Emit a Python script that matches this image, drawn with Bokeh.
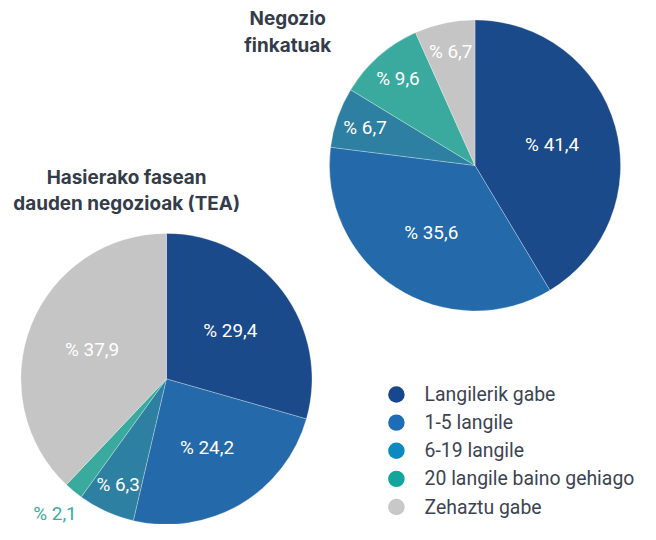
import math
from bokeh.plotting import figure
from bokeh.models import Range1d, ColumnDataSource
from bokeh.core.properties import value
from bokeh.embed import file_html
from bokeh.resources import INLINE

# ---- data ----
categories = ["Langilerik gabe", "1-5 langile", "6-19 langile",
              "20 langile baino gehiago", "Zehaztu gabe"]
established = [41.4, 35.6, 6.7, 9.6, 6.7]     # Negozio finkatuak
early_stage = [29.4, 24.2, 6.3, 2.1, 37.9]    # Hasierako fasean dauden negozioak (TEA)
title_est = ["Negozio", "finkatuak"]
title_tea = ["Hasierako fasean", "dauden negozioak (TEA)"]

# ---- styles ----
pie_colors = ["#1b4a8b", "#2469a9", "#2e80a3", "#3aaa9e", "#c5c5c5"]
legend_colors = ["#18478e", "#1f6cb6", "#0b8ac0", "#12a59b", "#c8c8c8"]
title_color = "#343c4a"
text_color = "#3c4452"

W, H = 640, 524
S = H / 540.0          # scale so the full 656x540 design fits
p = figure(width=W, height=H, output_backend="svg", toolbar_location=None,
           x_range=Range1d(0, W / S), y_range=Range1d(0, 540),
           min_border=0)
p.axis.visible = False
p.grid.visible = False
p.outline_line_color = None
p.background_fill_color = "white"
p.border_fill_color = "white"


def fs(px):
    return f"{px * S:.1f}px"


def Y(y_ref):
    return 540 - y_ref


def draw_pie(vals, cx, cy, r):
    total = sum(vals)
    cum = 0.0
    starts, ends, lx, ly, ltxt, lcol = [], [], [], [], [], []
    for i, v in enumerate(vals):
        f0 = cum / total
        f1 = (cum + v) / total
        cum += v
        starts.append(math.pi / 2 - f1 * 2 * math.pi)
        ends.append(math.pi / 2 - f0 * 2 * math.pi)
        frac = v / total
        mid = math.pi / 2 - (f0 + f1) / 2 * 2 * math.pi
        if frac >= 0.2:
            rr = 0.55 * r
            col = "white"
        elif frac >= 0.05:
            rr = 0.8 * r
            col = "white"
        else:
            rr = 1.2 * r
            col = pie_colors[i]
        lx.append(cx + rr * math.cos(mid))
        ly.append(cy + rr * math.sin(mid))
        ltxt.append("% " + f"{v:.1f}".replace(".", ","))
        lcol.append(col)
    src = ColumnDataSource(dict(start=starts, end=ends, color=pie_colors[:len(vals)]))
    p.wedge(x=cx, y=cy, radius=r, start_angle="start", end_angle="end",
            fill_color="color", line_color="white", line_width=0.4, line_alpha=0.7,
            source=src)
    lsrc = ColumnDataSource(dict(x=lx, y=ly, t=ltxt, c=lcol))
    p.text(x="x", y="y", text="t", text_color="c", source=lsrc,
           text_font=value("Roboto"), text_font_size=fs(19.5),
           text_align="center", text_baseline="middle")


draw_pie(established, 489, Y(170), 150)
draw_pie(early_stage, 171, Y(390), 150)

# titles
p.text(x=[296] * len(title_est), y=[Y(19 + 27 * i) for i in range(len(title_est))],
       text=title_est, text_font=value("Inter"), text_font_style="bold",
       text_font_size=fs(19.5), text_color=title_color,
       text_align="center", text_baseline="middle")
p.text(x=[130] * len(title_tea), y=[Y(182 + 27 * i) for i in range(len(title_tea))],
       text=title_tea, text_font=value("Inter"), text_font_style="bold",
       text_font_size=fs(19.5), text_color=title_color,
       text_align="center", text_baseline="middle")

# legend
ly = [Y(406 + 29 * i) for i in range(len(categories))]
p.scatter(x=[408] * len(categories), y=ly, size=17 * S, marker="circle",
          fill_color=legend_colors, line_color=None)
p.text(x=[437] * len(categories), y=ly, text=categories,
       text_font=value("Roboto"), text_font_size=fs(20), text_color=text_color,
       text_align="left", text_baseline="middle")

open("out.html", "w").write(file_html(p, INLINE))
